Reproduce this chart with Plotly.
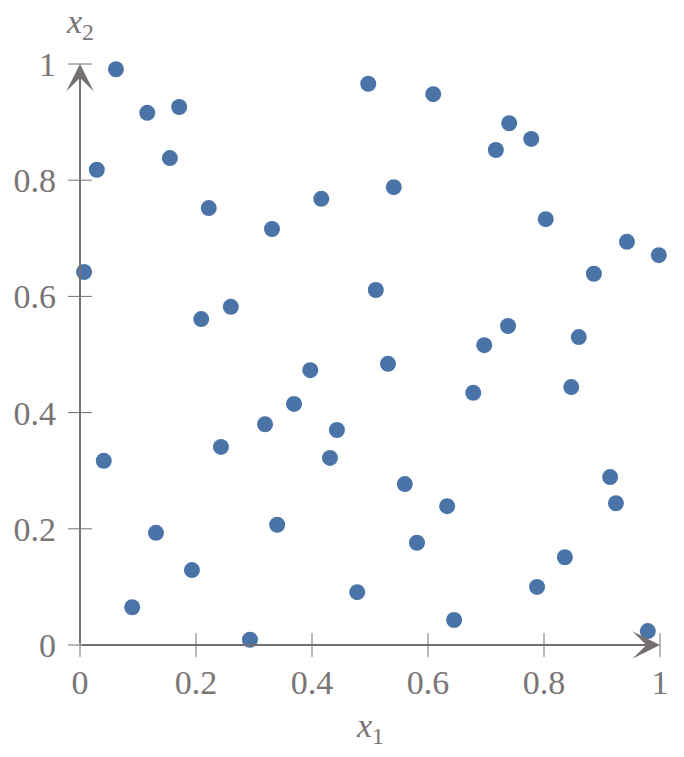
import plotly.graph_objects as go

x1 = [0.062, 0.116, 0.171, 0.029, 0.155, 0.222, 0.007, 0.331, 0.416, 0.497,
      0.609, 0.541, 0.740, 0.717, 0.778, 0.803, 0.943, 0.998, 0.886, 0.510,
      0.260, 0.209, 0.738, 0.697, 0.860, 0.531, 0.397, 0.678, 0.847, 0.369,
      0.319, 0.443, 0.243, 0.041, 0.431, 0.560, 0.914, 0.633, 0.924, 0.340,
      0.131, 0.581, 0.193, 0.836, 0.788, 0.478, 0.090, 0.645, 0.293, 0.979]
x2 = [0.991, 0.916, 0.926, 0.818, 0.838, 0.752, 0.642, 0.716, 0.768, 0.966,
      0.948, 0.788, 0.898, 0.852, 0.871, 0.733, 0.694, 0.671, 0.639, 0.611,
      0.582, 0.561, 0.549, 0.516, 0.530, 0.484, 0.473, 0.434, 0.444, 0.415,
      0.380, 0.370, 0.341, 0.317, 0.322, 0.277, 0.289, 0.239, 0.244, 0.207,
      0.193, 0.176, 0.129, 0.151, 0.100, 0.091, 0.065, 0.043, 0.009, 0.024]

tick_vals = [0, 0.2, 0.4, 0.6, 0.8, 1]
tick_text = ["0", "0.2", "0.4", "0.6", "0.8", "1"]
zeros = [0] * len(tick_vals)

AX = "#767070"
TXT = "#7a7575"
FONT = "Liberation Serif"
FS = 34

fig = go.Figure()
# tick marks crossing the axes
fig.add_trace(go.Scatter(x=tick_vals, y=zeros, mode="markers",
                         marker=dict(symbol="line-ns-open", size=17, color=AX,
                                     line=dict(color=AX, width=1)),
                         cliponaxis=False, hoverinfo="skip"))
fig.add_trace(go.Scatter(x=zeros, y=tick_vals, mode="markers",
                         marker=dict(symbol="line-ew-open", size=17, color=AX,
                                     line=dict(color=AX, width=1)),
                         cliponaxis=False, hoverinfo="skip"))
fig.add_trace(go.Scatter(x=x1, y=x2, mode="markers",
                         marker=dict(size=16, color="#4a74a8"),
                         cliponaxis=False, hoverinfo="skip"))

annotations = [
    dict(x=1, y=0, ax=0, ay=0, xref="x", yref="y", axref="x", ayref="y",
         text="", showarrow=True, arrowhead=3, arrowsize=2.3, arrowwidth=2,
         arrowcolor=AX, standoff=0),
    dict(x=0, y=1, ax=0, ay=0, xref="x", yref="y", axref="x", ayref="y",
         text="", showarrow=True, arrowhead=3, arrowsize=2.3, arrowwidth=2,
         arrowcolor=AX, standoff=0),
    dict(x=0.5, y=0, xref="x", yref="y", yshift=-83, showarrow=False,
         text="<i>x</i><sub>1</sub>", font=dict(family=FONT, size=FS, color=TXT)),
    dict(x=0.0, y=1, xref="x", yref="y", yshift=40, showarrow=False,
         text="<i>x</i><sub>2</sub>", font=dict(family=FONT, size=FS, color=TXT)),
]

axis_common = dict(range=[0, 1], showgrid=False, zeroline=False, showline=False,
                   tickvals=tick_vals, ticktext=tick_text, ticks="",
                   automargin=False,
                   tickfont=dict(family=FONT, size=FS, color=TXT))

# the page body adds an 8px margin, so the figure is sized to fit inside it
fig.update_layout(
    width=668, height=741,
    margin=dict(l=72, r=16, t=56, b=104),
    paper_bgcolor="white", plot_bgcolor="white",
    showlegend=False,
    xaxis=dict(**axis_common, ticklabelstandoff=14),
    yaxis=dict(**axis_common, ticklabelstandoff=23),
    annotations=annotations,
)

fig.write_html("out.html")
